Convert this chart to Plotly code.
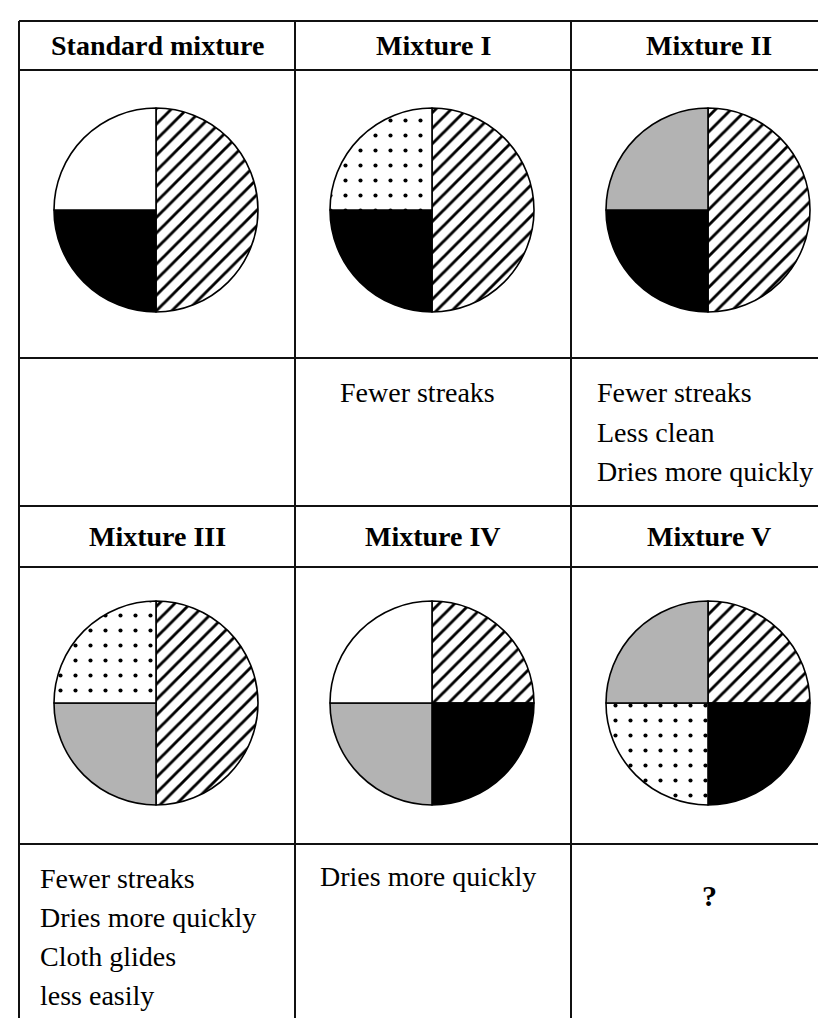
import plotly.graph_objects as go

W, H = 826, 1018

# mixture names, as in the table headers
mixtures = ["Standard mixture", "Mixture I", "Mixture II",
            "Mixture III", "Mixture IV", "Mixture V"]

# parts of each mixture, clockwise from 12 o'clock
parts = [
    ["hatched", "black", "white"],
    ["hatched", "black", "dotted"],
    ["hatched", "black", "grey"],
    ["hatched", "grey", "dotted"],
    ["hatched", "black", "grey", "white"],
    ["hatched", "black", "dotted", "grey"],
]
shares = [
    [50, 25, 25],
    [50, 25, 25],
    [50, 25, 25],
    [50, 25, 25],
    [25, 25, 25, 25],
    [25, 25, 25, 25],
]

# observed effects compared with the standard mixture
effects = [
    [],
    ["Fewer streaks"],
    ["Fewer streaks", "Less clean", "Dries more quickly"],
    ["Fewer streaks", "Dries more quickly", "Cloth glides", "less easily"],
    ["Dries more quickly"],
    ["?"],
]

# fill style for each part: (colour, pattern shape, pattern size, solidity)
styles = {
    "hatched": ("white", "/", 11, 0.26),
    "black": ("black", "", 8, 0.3),
    "white": ("white", "", 8, 0.3),
    "dotted": ("white", ".", 15, 0.06),
    "grey": ("#b3b3b3", "", 8, 0.3),
}

# table layout in pixels
col_edges = [11, 287, 563, 839]
row_edges = [13, 62, 350, 498, 559, 836, 1030]
pie_centres_y = [202, 695]
pie_radius = 102
font = "Liberation Serif"


def px(x):
    return x / W


def py(y):
    return 1 - y / H


fig = go.Figure()

for i, name in enumerate(mixtures):
    col, band = i % 3, i // 3
    cx = (col_edges[col] + col_edges[col + 1]) / 2 - 1
    cy = pie_centres_y[band]
    st = [styles[p] for p in parts[i]]
    fig.add_trace(go.Pie(
        labels=parts[i],
        values=shares[i],
        name=name,
        sort=False,
        direction="clockwise",
        rotation=0,
        textinfo="none",
        showlegend=False,
        domain=dict(x=[px(cx - pie_radius), px(cx + pie_radius)],
                    y=[py(cy + pie_radius), py(cy - pie_radius)]),
        marker=dict(
            colors=[s[0] for s in st],
            line=dict(color="black", width=1.6),
            pattern=dict(
                shape=[s[1] for s in st],
                size=[s[2] for s in st],
                solidity=[s[3] for s in st],
                fgcolor="black",
                bgcolor=[s[0] for s in st],
                fillmode="replace",
            ),
        ),
    ))

# table grid
shapes = []
for y in row_edges[:-1]:
    shapes.append(dict(type="line", xref="paper", yref="paper",
                       x0=px(col_edges[0]), x1=px(col_edges[-1]), y0=py(y), y1=py(y),
                       line=dict(color="#111", width=2)))
for x in col_edges:
    shapes.append(dict(type="line", xref="paper", yref="paper",
                       x0=px(x), x1=px(x), y0=py(row_edges[0]), y1=py(row_edges[-1]),
                       line=dict(color="#111", width=2)))

annotations = []
header_y = [(row_edges[0] + row_edges[1]) / 2, (row_edges[3] + row_edges[4]) / 2]
text_top = [385, 870]
text_x = [[0, 330, 587], [30, 310, 0]]
line_gap = 39
for i, name in enumerate(mixtures):
    col, band = i % 3, i // 3
    cx = (col_edges[col] + col_edges[col + 1]) / 2
    annotations.append(dict(
        text="<b>%s</b>" % name, xref="paper", yref="paper",
        x=px(cx), y=py(header_y[band]), xanchor="center", yanchor="middle",
        showarrow=False, font=dict(family=font, size=28, color="black")))
    for k, line in enumerate(effects[i]):
        if line == "?":
            annotations.append(dict(
                text="<b>?</b>", xref="paper", yref="paper",
                x=px(cx), y=py(text_top[band] + 17), xanchor="center", yanchor="middle",
                showarrow=False, font=dict(family=font, size=30, color="black")))
            continue
        annotations.append(dict(
            text=line, xref="paper", yref="paper",
            x=px(text_x[band][col]), y=py(text_top[band] + k * line_gap - (2 if col == 1 and band == 1 else 0)),
            xanchor="left", yanchor="middle",
            showarrow=False, font=dict(family=font, size=28, color="black")))

fig.update_layout(
    width=W, height=H,
    margin=dict(l=0, r=0, t=0, b=0),
    paper_bgcolor="white",
    plot_bgcolor="white",
    shapes=shapes,
    annotations=annotations,
)

fig.write_html("out.html")
